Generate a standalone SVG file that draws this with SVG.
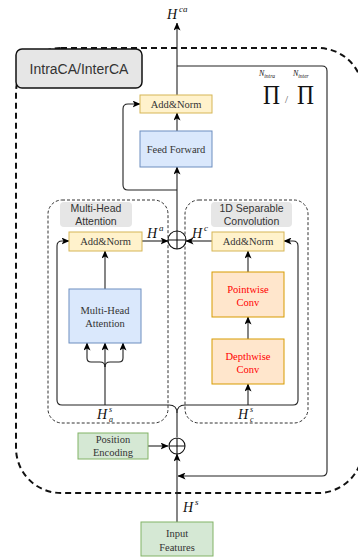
<svg xmlns="http://www.w3.org/2000/svg" width="358" height="557" viewBox="0 0 358 557">
<defs>
<marker id="arr" markerWidth="8" markerHeight="7" refX="7.5" refY="3.5" orient="auto" markerUnits="userSpaceOnUse">
<path d="M0,0 L8,3.5 L0,7 L2,3.5 z" fill="#000"/>
</marker>
<style>
.c{fill:none;stroke:#222;stroke-width:1.1}
.a{marker-end:url(#arr)}
.bt{font-family:"Liberation Serif","Times New Roman",serif;font-size:10.5px;fill:#333;text-anchor:middle}
.red{fill:#ff0000}
.yel{fill:#fff2cc;stroke:#d6b656;stroke-width:1}
.blu{fill:#dae8fc;stroke:#6c8ebf;stroke-width:1}
.org{fill:#ffe6cc;stroke:#d79b00;stroke-width:1}
.grn{fill:#d5e8d4;stroke:#82b366;stroke-width:1}
.grp{fill:none;stroke:#333;stroke-width:1;stroke-dasharray:3,2}
.ttl{fill:#e6e6e6}
.tt{font-family:"Liberation Sans",sans-serif;font-size:10.5px;fill:#333;text-anchor:middle}
.m{font-family:"Liberation Serif",serif;font-style:italic;fill:#111}
.pi{font-family:"Liberation Serif",serif;font-size:28px;fill:#111}
</style>
</defs>
<rect width="358" height="557" fill="#fff"/>
<rect x="16" y="48" width="347" height="445" rx="45" ry="45" fill="none" stroke="#111" stroke-width="2" stroke-dasharray="6,4"/>
<g id="intraca-label">
<rect x="16" y="49" width="126" height="39" rx="6" ry="6" fill="#e6e6e6" stroke="#111" stroke-width="1.5"/>
<text x="79" y="74" font-family="Liberation Sans, sans-serif" font-size="14px" fill="#333" text-anchor="middle">IntraCA/InterCA</text>
</g>
<g id="groups">
<g id="mha-group">
<rect x="48" y="200" width="120" height="223" rx="14" ry="14" class="grp"/>
<rect x="60" y="202" width="72" height="25" rx="4" class="ttl"/>
<text x="96" y="212" class="tt">Multi-Head</text>
<text x="96" y="225" class="tt">Attention</text>
</g>
<g id="conv-group">
<rect x="185" y="200" width="123" height="223" rx="14" ry="14" class="grp"/>
<rect x="211" y="202" width="81" height="25" rx="4" class="ttl"/>
<text x="251.5" y="212" class="tt">1D Separable</text>
<text x="251.5" y="225" class="tt">Convolution</text>
</g>
</g>
<g id="connectors">
<path class="c a" d="M177,95 V23"/>
<path class="c a" d="M177,66 H322 Q327,66 327,71 V471 Q327,476 322,476 H178"/>
<path class="c a" d="M177,131 V113"/>
<path class="c a" d="M177,231 V167"/>
<path class="c a" d="M177,190 H128 Q123,190 123,185 V109 Q123,104 128,104 H140"/>
<path class="c a" d="M142,241 H168"/>
<path class="c a" d="M212,241 H186"/>
<path class="c a" d="M105,289 V251"/>
<path class="c a" d="M177,437 V413 Q177,405 169,405 H62 Q57,405 57,400 V246 Q57,241 62,241 H69"/>
<path class="c a" d="M177,413 Q177,405 185,405 H293 Q298,405 298,400 V246 Q298,241 293,241 H284"/>
<path class="c a" d="M105,405 V343"/>
<path class="c a" d="M105,367 Q105,362 100,362 H91 Q87,362 87,358 V343"/>
<path class="c a" d="M105,367 Q105,362 110,362 H119 Q123,362 123,358 V343"/>
<path class="c a" d="M248,405 V384"/>
<path class="c a" d="M248,339 V317"/>
<path class="c a" d="M248,272 V251"/>
<path class="c a" d="M148,446 H168"/>
<path class="c a" d="M177,522 V454"/>
</g>
<g id="plus-top">
<circle cx="177" cy="240" r="9" fill="#fff" stroke="#111" stroke-width="1.1"/>
<path d="M168,240 H186 M177,231 V249" stroke="#111" stroke-width="1.1"/>
</g>
<g id="plus-bottom">
<circle cx="177" cy="446" r="8" fill="#fff" stroke="#111" stroke-width="1.1"/>
<path d="M169,446 H185 M177,438 V454" stroke="#111" stroke-width="1.1"/>
</g>
<g id="addnorm-top">
<rect x="140" y="95" width="72" height="18" class="yel"/>
<text x="176" y="108" class="bt">Add&amp;Norm</text>
</g>
<g id="feed-forward">
<rect x="140" y="131" width="72" height="36" class="blu"/>
<text x="176" y="153" class="bt">Feed Forward</text>
</g>
<g id="addnorm-mha">
<rect x="69" y="232" width="73" height="19" class="yel"/>
<text x="105.5" y="245" class="bt">Add&amp;Norm</text>
</g>
<g id="mha">
<rect x="69" y="289" width="72" height="54" class="blu"/>
<text x="105" y="314" class="bt">Multi-Head</text>
<text x="105" y="327" class="bt">Attention</text>
</g>
<g id="addnorm-conv">
<rect x="212" y="232" width="72" height="19" class="yel"/>
<text x="248" y="245" class="bt">Add&amp;Norm</text>
</g>
<g id="pointwise">
<rect x="212" y="272" width="72" height="45" class="org"/>
<text x="248" y="293" class="bt red">Pointwise</text>
<text x="248" y="306" class="bt red">Conv</text>
</g>
<g id="depthwise">
<rect x="212" y="339" width="72" height="45" class="org"/>
<text x="248" y="360" class="bt red">Depthwise</text>
<text x="248" y="373" class="bt red">Conv</text>
</g>
<g id="position-encoding">
<rect x="78" y="433" width="70" height="26" class="grn"/>
<text x="113" y="443" class="bt">Position</text>
<text x="113" y="456" class="bt">Encoding</text>
</g>
<g id="input-features">
<rect x="141" y="522" width="72" height="34" class="grn"/>
<text x="177" y="537" class="bt">Input</text>
<text x="177" y="551" class="bt">Features</text>
</g>
<g id="labels">
<text x="167" y="19" class="m" font-size="14">H</text>
<text x="179" y="12" class="m" font-size="9">ca</text>
<text x="147" y="238" class="m" font-size="14">H</text>
<text x="159" y="231" class="m" font-size="9">a</text>
<text x="192" y="238" class="m" font-size="14">H</text>
<text x="204" y="231" class="m" font-size="9">c</text>
<text x="97" y="419" class="m" font-size="14">H</text>
<text x="109" y="412" class="m" font-size="8">s</text>
<text x="109" y="422" class="m" font-size="8">a</text>
<text x="238" y="419" class="m" font-size="14">H</text>
<text x="250" y="412" class="m" font-size="8">s</text>
<text x="250" y="422" class="m" font-size="8">c</text>
<text x="183" y="512" class="m" font-size="14">H</text>
<text x="195" y="505" class="m" font-size="9">s</text>
<text x="263" y="104" class="pi" textLength="17" lengthAdjust="spacingAndGlyphs">Π</text>
<text x="297" y="104" class="pi" textLength="17" lengthAdjust="spacingAndGlyphs">Π</text>
<text x="285" y="103" font-family="Liberation Serif, serif" font-size="11" fill="#555">/</text>
<text x="259" y="76" class="m" font-size="8">N<tspan font-size="5.5" dy="1.5">intra</tspan></text>
<text x="293" y="76" class="m" font-size="8">N<tspan font-size="5.5" dy="1.5">inter</tspan></text>
</g>
</svg>
